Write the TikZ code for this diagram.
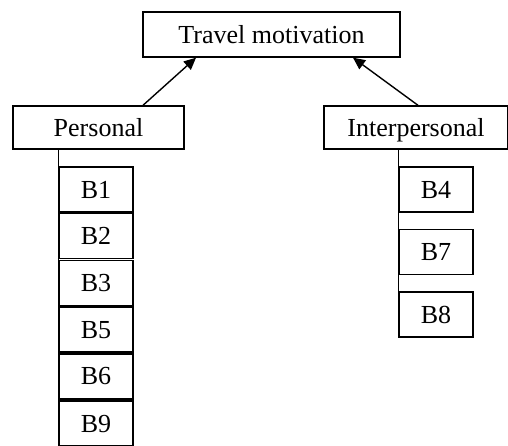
\documentclass[tikz,border=0pt]{standalone}
\usepackage{fontspec}
\setmainfont{Liberation Serif}
\usetikzlibrary{calc,arrows.meta}

\begin{document}
\begin{tikzpicture}[x=0.5pt,y=-0.5pt,line width=0.7pt,font=\fontsize{13}{15}\selectfont]
	\tikzstyle{box}=[draw,rectangle,inner sep=0pt,text depth=0pt];
	\tikzstyle{item}=[box,minimum width=37pt,minimum height=22.5pt];
	\tikzstyle{up}=[-{Triangle[length=6pt,width=5.5pt]}];
	%%
	\useasboundingbox (0,0) rectangle (508,445);
	%%
	\node[box,minimum width=128.5pt,minimum height=22.5pt] (travel)   at (271.5,34.5)  {Travel motivation};
	\node[box,minimum width=85.5pt, minimum height=21.5pt] (personal) at (98.5,127.5)  {Personal};
	\node[box,minimum width=92pt,   minimum height=21.5pt] (inter)    at (416,127.5)   {Interpersonal};
	%%
	\node[item] (B1) at (96,189.5) {B1};
	\node[item] (B2) at (96,236.2) {B2};
	\node[item] (B3) at (96,282.9) {B3};
	\node[item] (B5) at (96,329.6) {B5};
	\node[item] (B6) at (96,376.3) {B6};
	\node[item] (B9) at (96,423.5) {B9};
	%%
	\node[item] (B4) at (436,189.5) {B4};
	\node[item] (B7) at (436,252)   {B7};
	\node[item] (B8) at (436,314.5) {B8};
	%%
	\draw[up] ($(personal.north)+(44.5,0)$) -- ($(travel.south)+(-75.5,0)$);
	\draw[up] ($(inter.north)+(2,0)$)       -- ($(travel.south)+(81.5,0)$);
	%%
	\draw (personal.south -| B1.west) -- (B9.south west);
	\draw (inter.south -| B4.west)    -- (B8.south west);
\end{tikzpicture}
\end{document}
